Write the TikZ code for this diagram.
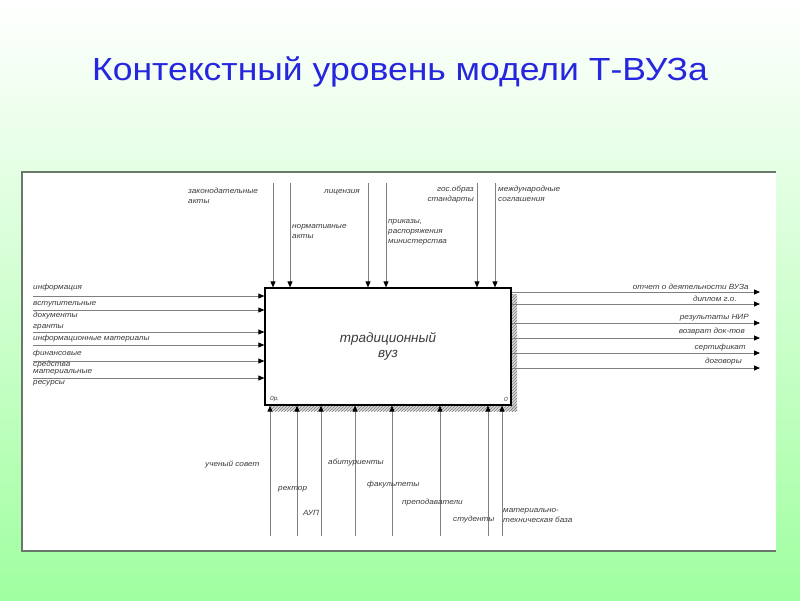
\documentclass[tikz,border=0pt]{standalone}
\usepackage{fontspec}
\setmainfont{Liberation Sans}
\usepackage{tikz}
\usetikzlibrary{arrows.meta,positioning,patterns}
\definecolor{bggreen}{RGB}{160,255,160}
\definecolor{titleblue}{RGB}{38,38,222}
\definecolor{linegray}{RGB}{128,128,128}
\definecolor{labelgray}{RGB}{60,60,60}
\definecolor{panelgray}{RGB}{105,120,105}

\begin{document}
\begin{tikzpicture}[x=1pt, y=-1pt,
  lbl/.style={font=\fontsize{7.5}{10}\selectfont\itshape, text=labelgray, inner sep=0pt, align=left, xscale=1.09},
  arr/.style={draw=linegray, line width=0.8pt, -{Triangle[length=6pt,width=5pt,color=black]}},
  outl/.style={draw=linegray, line width=0.8pt, -{Triangle[length=6pt,width=5pt,color=black]}}]
  \useasboundingbox (0,0) rectangle (800,600);
  % background and panel
  \shade[top color=white, bottom color=bggreen] (0,0) rectangle (800,600);
  \fill[white] (22,172) rectangle (776,551);
  \draw[panelgray, line width=1.5pt] (776,172) -- (22,172) -- (22,551) -- (776,551);

  \node[font=\fontsize{32}{36}\selectfont, text=titleblue, xscale=1.11] (title) at (400,72)
    {Контекстный уровень модели Т-ВУЗа};

  % shadow of the block
  \fill[gray!30] (511,294) rectangle (517,411);
  \fill[gray!30] (271,405) rectangle (517,411);
  \fill[pattern=north east lines, pattern color=gray] (511,294) rectangle (517,411);
  \fill[pattern=north east lines, pattern color=gray] (271,405) rectangle (517,411);

  % the block
  \node[draw=black, fill=white, line width=1.2pt, minimum width=246pt, minimum height=117pt,
        inner sep=0pt, align=center, font=\fontsize{13.5}{15}\selectfont\itshape, text=labelgray]
    (vuz) at (388,346.5) {традиционный\\вуз};
  \node[lbl, font=\fontsize{6}{7}\selectfont\itshape, anchor=west] (num) at (270,399) {0р.};
  \node[lbl, font=\fontsize{6}{7}\selectfont\itshape, anchor=east] (zero) at (508,399) {0};

  % controls (top)
  \coordinate (c1) at (273,183);
  \coordinate (c2) at (290,183);
  \coordinate (c3) at (368,183);
  \coordinate (c4) at (386,183);
  \coordinate (c5) at (477,183);
  \coordinate (c6) at (495,183);
  \foreach \i in {1,...,6}
    \draw[arr] (c\i) -- (c\i |- vuz.north);

  \node[lbl, anchor=west] (zakon) at (188,195.5) {законодательные\\акты};
  \node[lbl, anchor=east] (lic) at (360,192) {лицензия};
  \node[lbl, anchor=west] (norm) at (292,231.5) {нормативные\\акты};
  \node[lbl, anchor=west] (prik) at (388,232) {приказы,\\распоряжения\\министерства};
  \node[lbl, anchor=east, align=right] (gos) at (474,195) {гос.образ\\стандарты};
  \node[lbl, anchor=west] (mezh) at (498,194) {международные\\соглашения};

  % inputs (left)
  \coordinate (i1) at (33,296);
  \coordinate (i2) at (33,310);
  \coordinate (i3) at (33,332);
  \coordinate (i4) at (33,345);
  \coordinate (i5) at (33,361);
  \coordinate (i6) at (33,378);
  \foreach \i in {1,...,6}
    \draw[arr] (i\i) -- (i\i -| vuz.west);

  \node[lbl, anchor=west] (inf) at (33,288) {информация};
  \node[lbl, anchor=west] (vst) at (33,304) {вступительные};
  \node[lbl, anchor=west] (dok) at (33,316) {документы};
  \node[lbl, anchor=west] (gr) at (33,327) {гранты};
  \node[lbl, anchor=west] (infm) at (33,339) {информационные материалы};
  \node[lbl, anchor=west] (fin) at (33,354) {финансовые};
  \node[lbl, anchor=west] (sred) at (33,364.5) {средства};
  \node[lbl, anchor=west] (mat) at (33,372.5) {материальные};
  \node[lbl, anchor=west] (res) at (33,383) {ресурсы};

  % outputs (right)
  \coordinate (o1) at (760,292);
  \coordinate (o2) at (760,304);
  \coordinate (o3) at (760,323);
  \coordinate (o4) at (760,338);
  \coordinate (o5) at (760,353);
  \coordinate (o6) at (760,368);
  \foreach \i in {1,...,6}
    \draw[outl] (o\i -| vuz.east) -- (o\i);

  \node[lbl, anchor=east] (otch) at (749,287) {отчет о деятельности ВУЗа};
  \node[lbl, anchor=east] (dipl) at (737,299) {диплом г.о.};
  \node[lbl, anchor=east] (nir) at (749,318) {результаты НИР};
  \node[lbl, anchor=east] (vozv) at (745,332) {возврат док-тов};
  \node[lbl, anchor=east] (sert) at (746,348) {сертификат};
  \node[lbl, anchor=east] (dog) at (742,362) {договоры};

  % mechanisms (bottom)
  \foreach \n/\x in {1/270,2/297,3/321,4/355,5/392,6/440,7/488,8/502}
    \coordinate (m\n) at (\x,536);
  \foreach \i in {1,...,8}
    \draw[arr] (m\i) -- (m\i |- vuz.south);

  \node[lbl, anchor=west] (uch) at (205,464) {ученый совет};
  \node[lbl, anchor=west] (rek) at (278,489) {ректор};
  \node[lbl, anchor=west] (aup) at (303,513) {АУП};
  \node[lbl, anchor=west] (abit) at (328,463) {абитуриенты};
  \node[lbl, anchor=west] (fak) at (367,485) {факультеты};
  \node[lbl, anchor=west] (prep) at (402,503) {преподаватели};
  \node[lbl, anchor=west] (stud) at (453,520) {студенты};
  \node[lbl, anchor=west] (mtb) at (503,515.5) {материально-\\техническая база};
\end{tikzpicture}
\end{document}
